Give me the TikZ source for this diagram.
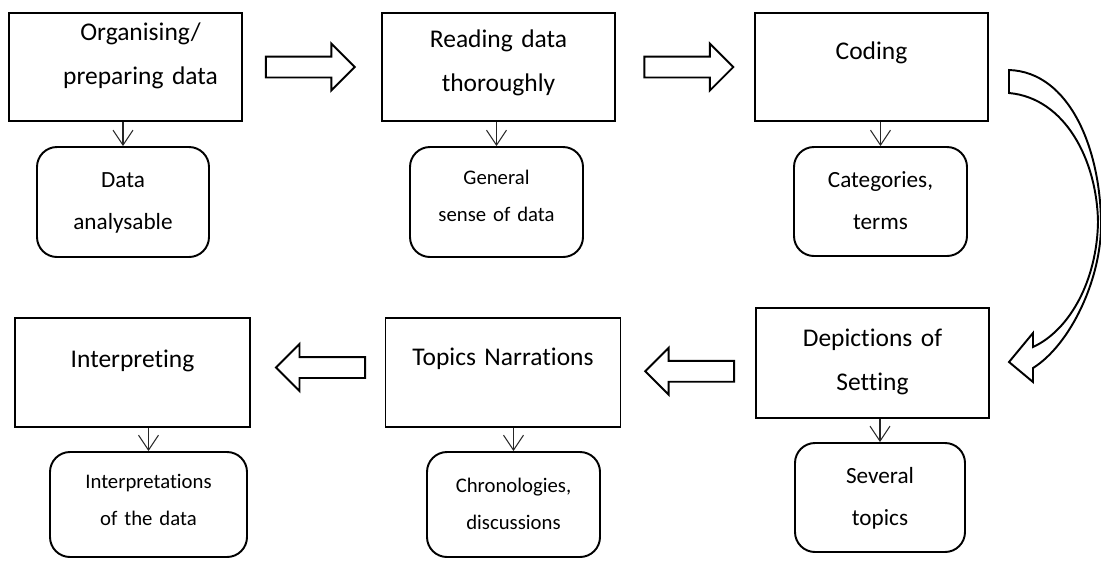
\documentclass[tikz,border=0pt]{standalone}
\usepackage{fontspec}
\setmainfont{Carlito}[Ligatures={NoCommon,NoRequired}]
\usetikzlibrary{shapes.arrows, arrows.meta, calc, positioning}
\tikzstyle{stepbox} = [draw, line width=1.1pt, inner sep=0pt, text width=46.6mm, align=center, font=\fontsize{14.5}{25.5}\selectfont]
\tikzstyle{resultbox} = [draw, line width=1.1pt, rounded corners=4mm, inner sep=0pt, text width=34.6mm, align=center, font=\fontsize{13.2}{24.4}\selectfont]
\tikzstyle{smalltext} = [font=\fontsize{11.8}{21.5}\selectfont]
\tikzstyle{bigarrow} = [draw, line width=1.1pt, fill=white, single arrow, single arrow head extend=2.6mm, inner xsep=0pt, inner ysep=1.9mm, minimum height=17.8mm]
\tikzstyle{downarrow} = [draw, -{Straight Barb[length=3mm, width=4mm]}, line width=0.6pt, black!85]

\begin{document}
\begin{tikzpicture}[x=0.2mm, y=-0.2mm]
	\useasboundingbox (0,0) rectangle (1101,560);
	% steps
	\node[stepbox, text height=5.4mm, text depth=16.2mm] (organise) at (125.5,67) {\hspace*{6mm}Organising/\\\hspace*{6mm}preparing data};
	\node[stepbox, text height=6.8mm, text depth=14.8mm] (reading) at (498.5,67) {Reading data\\thoroughly};
	\node[stepbox, text height=9.2mm, text depth=12.4mm] (coding) at (871.5,67) {Coding};
	\node[stepbox, text height=7.6mm, text depth=14.4mm] (depict) at (872.5,363) {Depictions of\\Setting};
	\node[stepbox, text width=47mm, text height=9.4mm, text depth=12.4mm] (topics) at (503,372.5) {Topics Narrations};
	\node[stepbox, text width=47mm, text height=9.8mm, text depth=12mm] (interpret) at (132.5,372.5) {Interpreting};
	% results
	\node[resultbox, text width=34.4mm, text height=8mm, text depth=14mm] (analysable) at (123,202) {Data\\analysable};
	\node[resultbox, smalltext, text height=7.4mm, text depth=14.6mm] (sense) at (496.5,202) {General\\sense of data};
	\node[resultbox, text height=8mm, text depth=13.8mm] (categories) at (880.5,201.5) {Categories,\\terms};
	\node[resultbox, text width=34mm, text height=8mm, text depth=13.8mm] (topicsres) at (880,497.5) {Several\\topics};
	\node[resultbox, smalltext, text height=8mm, text depth=13mm] (chrono) at (513.5,504.5) {Chronologies,\\discussions};
	\node[resultbox, smalltext, text width=39.4mm, text height=7.2mm, text depth=13.8mm] (interpretations) at (148.5,504.5) {Interpretations\\of the data};
	% block arrows
	\node[bigarrow] (a1) at ($(organise.east)!0.45!(reading.west)$) {};
	\node[bigarrow] (a2) at ($(reading.east)!0.49!(coding.west)$) {};
	\node[bigarrow, shape border rotate=180] (a3) at ($(depict.west)!0.45!(topics.east)+(0,4)$) {};
	\node[bigarrow, shape border rotate=180] (a4) at ($(topics.west)!0.44!(interpret.east)+(0,-5)$) {};
	% curved arrow
	\draw[line width=1.1pt, fill=white] (1009,70) .. controls (1070,72) and (1101,150) .. (1101,225)
		.. controls (1101,280) and (1070,345) .. (1033,368) -- (1033,382) -- (1009,362) -- (1033,333) -- (1033,347)
		.. controls (1070,330) and (1097,280) .. (1098,222)
		.. controls (1097,160) and (1065,98) .. (1009,93) -- cycle;
	% down arrows
	\draw[downarrow] (analysable.north |- organise.south) -- (analysable.north);
	\draw[downarrow] (sense.north |- reading.south) -- (sense.north);
	\draw[downarrow] (categories.north |- coding.south) -- (categories.north);
	\draw[downarrow] (topicsres.north |- depict.south) -- (topicsres.north);
	\draw[downarrow] (chrono.north |- topics.south) -- (chrono.north);
	\draw[downarrow] (interpretations.north |- interpret.south) -- (interpretations.north);
\end{tikzpicture}
\end{document}
